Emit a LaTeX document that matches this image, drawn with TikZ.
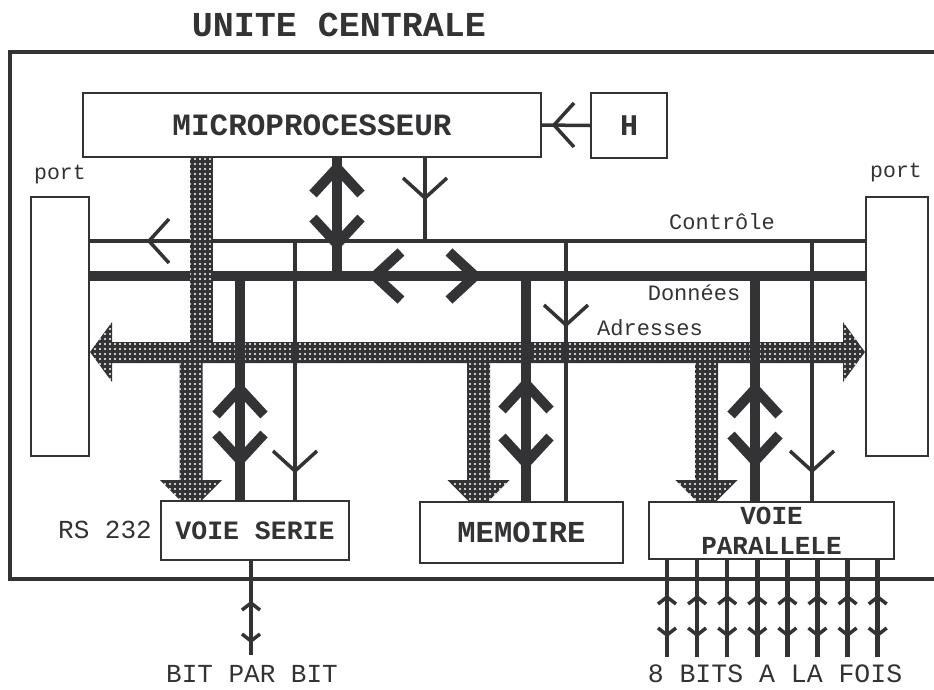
\documentclass[tikz,border=0pt]{standalone}
\usepackage{fontspec}
\setmonofont{Liberation Mono}
\usepackage{tikz}
\usetikzlibrary{positioning,calc,patterns.meta}
\definecolor{encre}{HTML}{333336}

\begin{document}
\begin{tikzpicture}[
    x=1pt,y=-1pt,
    boite/.style  = {draw=encre, line width=2pt, inner sep=0pt, fill=white,
                     text=encre, align=center},
    gras/.style   = {font=\ttfamily\bfseries\fontsize{#1}{30}\selectfont},
    petit/.style  = {text=encre, font=\ttfamily\fontsize{#1}{24}\selectfont},
    ctl/.style    = {encre, line width=3.5pt},
    don/.style    = {encre, line width=9.5pt},
    bit/.style    = {encre, line width=4.5pt},
    adr/.style    = {preaction={fill=encre}, pattern color=white,
                     pattern={Dots[radius=1.1pt,distance=5pt]}},
  ]

  % ── Chevrons ───────────────────────────────────────────────────────────
  \tikzset{
    grosse/.pic={\draw[encre,line width=10pt] (-24,26) -- (0,0) -- (24,26);},
    fine/.pic={\draw[encre,line width=3.5pt] (-22,20) -- (0,0) -- (22,20);},
    petite/.pic={\draw[encre,line width=3.5pt] (-9,7) -- (0,0) -- (9,7);}}

  \useasboundingbox (0,0) rectangle (934,689);
  \fill[white] (0,0) rectangle (934,689);

  % ── Unité centrale ─────────────────────────────────────────────────────
  \node[gras=35, text=encre] (titre) at (339,25) {UNITE CENTRALE};
  \draw[encre,line width=4pt] (940,52) -- (10,52) -- (10,579) -- (940,579);

  % ── Blocs ──────────────────────────────────────────────────────────────
  \node[boite, gras=31, minimum width=458, minimum height=64]
       (micro) at (312,125) {MICROPROCESSEUR};
  \node[boite, gras=30, minimum width=76, minimum height=65]
       (horl) at (629,125.5) {H};
  \node[boite, minimum width=58, minimum height=259] (portG) at (60,326.5) {};
  \node[boite, minimum width=62, minimum height=259] (portD) at (897,326.5) {};
  \node[boite, gras=26.5, minimum width=188, minimum height=59]
       (serie) at (255,530.5) {VOIE SERIE};
  \node[boite, gras=30.5, minimum width=203, minimum height=61]
       (mem) at (521.5,532.5) {MEMOIRE};
  \node[boite, gras=26, minimum width=245, minimum height=57]
       (para) at (771.5,530.5) {VOIE\\PARALLELE};

  % ── Bus de contrôle et de données ──────────────────────────────────────
  \coordinate (ctlG) at (portG.east |- 0,241);
  \coordinate (ctlD) at (portD.west |- 0,241);
  \coordinate (donG) at (portG.east |- 0,276);
  \coordinate (donD) at (portD.west |- 0,276);
  \draw[ctl] (ctlG) -- (ctlD);
  \draw[don] (donG) -- (donD);
  \pic[rotate=90]  at (149,241) {fine};
  \pic[rotate=90]  at (375,276) {grosse};
  \pic[rotate=-90] at (475,276) {grosse};

  % ── Bus d'adresses ─────────────────────────────────────────────────────
  \fill[adr] (190,0 |- micro.south) rectangle (213,342);
  \fill[adr] (portG.east |- 0,352) -- (112,322) -- (112,342) -- (843,342)
       -- (843,322) -- (portD.west |- 0,352) -- (843,382) -- (843,363)
       -- (112,363) -- (112,382) -- cycle;
  \foreach \x in {191,478.5,706.5}
    \fill[adr] (\x-11.5,363) -- (\x+11.5,363) -- (\x+11.5,480) -- (\x+31,480)
         -- (\x+10,501) -- (\x-10,501) -- (\x-31,480) -- (\x-11.5,480) -- cycle;

  % ── Liaisons de données ────────────────────────────────────────────────
  \draw[don] (337,0 |- micro.south) -- (337,0 |- donG);
  \pic at (337,168) {grosse};
  \pic[rotate=180] at (337,244) {grosse};

  \draw[don] (240,0 |- donG) -- (240,0 |- serie.north);
  \pic at (240,389) {grosse};
  \pic[rotate=180] at (240,460) {grosse};

  \draw[don] (526,0 |- donG) -- (526,0 |- mem.north);
  \pic at (526,384) {grosse};
  \pic[rotate=180] at (526,463) {grosse};

  \draw[don] (755,0 |- donG) -- (755,0 |- para.north);
  \pic at (755,389) {grosse};
  \pic[rotate=180] at (755,461) {grosse};

  % ── Liaisons de contrôle ───────────────────────────────────────────────
  \draw[ctl] (425,0 |- micro.south) -- (425,0 |- ctlG);
  \pic[rotate=180] at (425,198) {fine};

  \draw[ctl] (295,0 |- ctlG) -- (295,0 |- serie.north);
  \pic[rotate=180] at (295,471) {fine};

  \draw[ctl] (566,0 |- ctlG) -- (566,0 |- mem.north);
  \pic[rotate=180] at (566,325) {fine};

  \draw[ctl] (812,0 |- ctlG) -- (812,0 |- para.north);
  \pic[rotate=180] at (812,471) {fine};

  \draw[ctl] (horl.west) -- (micro.east);
  \pic[rotate=90] at (554,125) {fine};

  % ── Sorties ────────────────────────────────────────────────────────────
  \draw[bit] (251,0 |- serie.south) -- (251,655);
  \pic at (251,603) {petite};
  \pic[rotate=180] at (251,641) {petite};

  \foreach \i in {0,...,7} {
    \draw[bit] (667+30.1*\i,0 |- para.south) -- (667+30.1*\i,657);
    \pic at (667+30.1*\i,597) {petite};
    \pic[rotate=180] at (667+30.1*\i,635) {petite};
  }

  % ── Libellés ───────────────────────────────────────────────────────────
  \node[petit=21.5] (lportG) at (60,175) {port};
  \node[petit=21.5] (lportD) at (896,173) {port};
  \node[petit=22] (lctl) at (722,222) {Contrôle};
  \node[petit=22] (ldon) at (694,293) {Données};
  \node[petit=22] (ladr) at (650,328) {Adresses};
  \node[petit=26] (lrs) at (105,530) {RS 232};
  \node[petit=26] (lbit) at (252,674) {BIT PAR BIT};
  \node[petit=26.5] (lfois) at (775,674) {8 BITS A LA FOIS};

\end{tikzpicture}
\end{document}
